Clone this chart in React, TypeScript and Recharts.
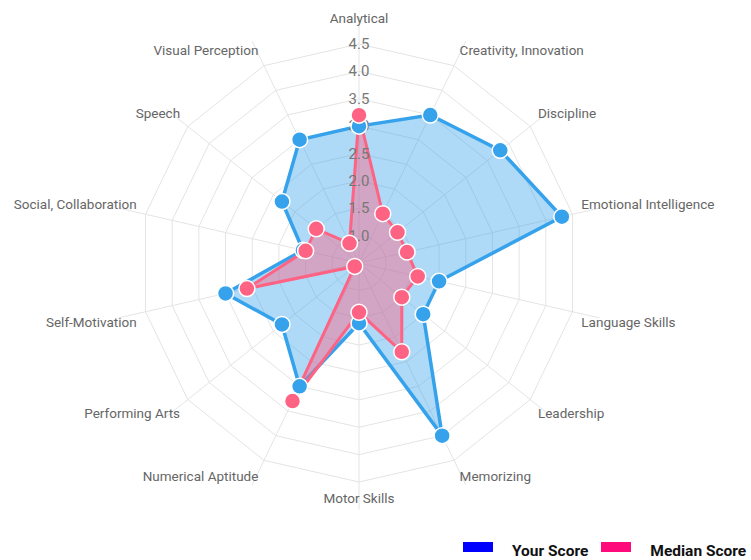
import React from "react";
import { PolarAngleAxis, PolarGrid, PolarRadiusAxis, Radar, RadarChart } from "recharts";

const skills = [
  "Analytical",
  "Creativity, Innovation",
  "Discipline",
  "Emotional Intelligence",
  "Language Skills",
  "Leadership",
  "Memorizing",
  "Motor Skills",
  "Numerical Aptitude",
  "Performing Arts",
  "Self-Motivation",
  "Social, Collaboration",
  "Speech",
  "Visual Perception",
];
const yourScore = [3.0, 3.5, 3.8, 4.3, 2.0, 2.0, 4.0, 1.6, 3.0, 2.3, 3.0, 1.55, 2.3, 3.0];
const medianScore = [3.2, 1.5, 1.4, 1.4, 1.6, 1.5, 2.3, 1.4, 3.3, 0.6, 2.6, 1.5, 1.5, 0.9];
const radiusTicks = [0.5, 1, 1.5, 2, 2.5, 3, 3.5, 4, 4.5];
const legendItems = [
  { name: "Your Score", color: "#0000ff" },
  { name: "Median Score", color: "#ff0a7a" },
];

const data = skills.map((skill, i) => ({ skill, your: yourScore[i], median: medianScore[i] }));

// chart geometry
const CX = 359;
const CY = 263;
const R = 219;
// recharts stretches the radius domain by half a step past the last tick,
// so the scale radius is set so that the 4.5 ring lands on R
const SCALE_R = (R * 4.5) / 4;

function AngleTick(props: any) {
  const { x, y, payload } = props;
  const dx = x - CX;
  const dy = y - CY;
  const len = Math.hypot(dx, dy) || 1;
  const ux = dx / len;
  const uy = dy / len;
  const px = CX + ux * R;
  const py = CY + uy * R;
  let anchor: "middle" | "start" | "end" = "middle";
  let tx = px;
  if (Math.abs(ux) > 0.05) {
    anchor = ux > 0 ? "start" : "end";
    tx = px + Math.sign(ux) * (3 + 6 * Math.abs(ux));
  }
  let ty = py + Math.sign(uy) * (8 + 8 * Math.abs(uy));
  if (uy < -0.99) ty = py - 26;
  return (
    <text x={tx} y={ty} textAnchor={anchor} dominantBaseline="central" fontSize={13.5} fill="#666" fontFamily="Roboto, sans-serif">
      {payload.value}
    </text>
  );
}

function RadiusTick(props: any) {
  const { x, y, payload } = props;
  if (payload.value === radiusTicks[0]) return <g />;
  return (
    <text x={x} y={y} textAnchor="middle" dominantBaseline="central" fontSize={15} fill="#777" fontFamily="Roboto, sans-serif">
      {Number(payload.value).toFixed(1)}
    </text>
  );
}

export default function App() {
  return (
    <div style={{ position: "absolute", left: 0, top: 0, width: 751, height: 560, background: "#fff" }}>
      <RadarChart
        width={751}
        height={560}
        data={data}
        cx={CX}
        cy={CY}
        outerRadius={SCALE_R}
        margin={{ top: 0, right: 0, bottom: 0, left: 0 }}
      >
        <PolarGrid gridType="polygon" stroke="#e4e4e4" outerRadius={R} />
        <PolarAngleAxis dataKey="skill" tick={<AngleTick />} tickLine={false} axisLine={false} />
        <PolarRadiusAxis
          angle={90}
          type="number"
          domain={[0.5, 4.5]}
          allowDataOverflow
          ticks={radiusTicks}
          tick={<RadiusTick />}
          tickLine={false}
          axisLine={false}
        />
        <Radar
          name="Your Score"
          dataKey="your"
          stroke="#36a2eb"
          strokeWidth={3.5}
          fill="#36a2eb"
          fillOpacity={0.4}
          dot={{ r: 8, fill: "#36a2eb", stroke: "#fff", strokeWidth: 1.5, fillOpacity: 1 }}
          isAnimationActive={false}
        />
        <Radar
          name="Median Score"
          dataKey="median"
          stroke="#ff6384"
          strokeWidth={3}
          fill="#ff6384"
          fillOpacity={0.45}
          dot={{ r: 8, fill: "#ff6384", stroke: "#fff", strokeWidth: 1.5, fillOpacity: 1 }}
          isAnimationActive={false}
        />
      </RadarChart>
      <div
        style={{
          position: "absolute",
          left: 463,
          top: 541,
          height: 20,
          display: "flex",
          alignItems: "flex-start",
          whiteSpace: "nowrap",
          fontFamily: "Roboto, sans-serif",
          fontWeight: 700,
          fontSize: 15.5,
          lineHeight: "20px",
          color: "#111",
        }}
      >
        {legendItems.map((item, i) => (
          <React.Fragment key={item.name}>
            <span style={{ display: "inline-block", width: 30, height: 10, marginTop: 1, background: item.color, marginRight: 19 }} />
            <span style={{ marginRight: i === 0 ? 13 : 0 }}>{item.name}</span>
          </React.Fragment>
        ))}
      </div>
    </div>
  );
}
